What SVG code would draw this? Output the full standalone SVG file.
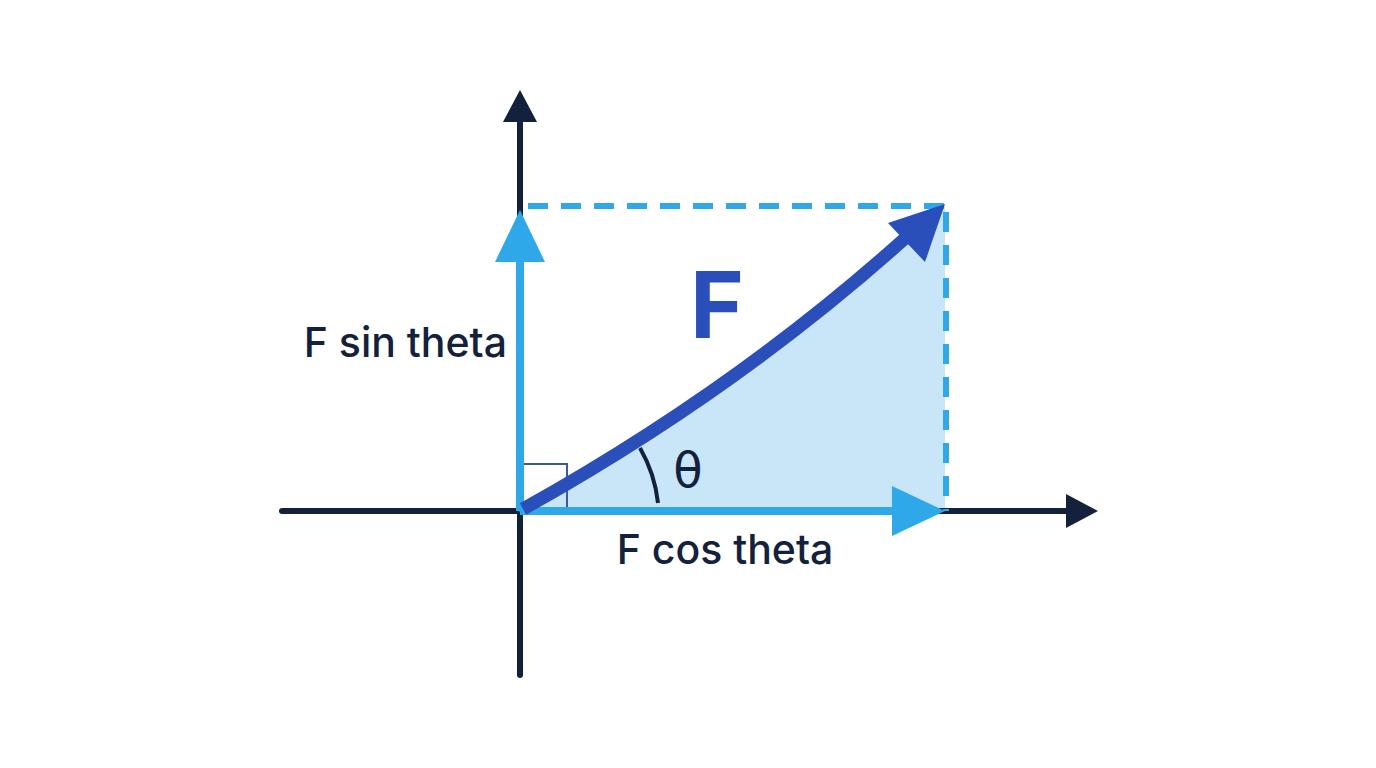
<svg xmlns="http://www.w3.org/2000/svg" width="1376" height="768" viewBox="0 0 1376 768">
<style>
.lbl{font-family:"Inter","Liberation Sans",sans-serif;font-weight:500;fill:#14213d;font-size:41px}
</style>
<rect width="1376" height="768" fill="#fff"/>
<g id="fill"><path d="M520,511 Q750,383 945,206 L945,511 Z" fill="#c9e6f8"/></g>
<g id="connectors">
<line x1="282" y1="511" x2="1070" y2="511" stroke="#14213d" stroke-width="6" stroke-linecap="round"/>
<polygon points="1098,511 1066,494 1066,528" fill="#14213d"/>
<line x1="520" y1="675" x2="520" y2="118" stroke="#14213d" stroke-width="6" stroke-linecap="round"/>
<polygon points="520,90 503,122 537,122" fill="#14213d"/>
<line x1="528" y1="206" x2="945" y2="206" stroke="#2ea8e8" stroke-width="6" stroke-dasharray="20,13"/>
<line x1="946" y1="212" x2="946" y2="511" stroke="#2ea8e8" stroke-width="6" stroke-dasharray="20,13"/>
<rect x="520" y="464" width="47" height="47" fill="none" stroke="#3a5a98" stroke-width="2"/>
<line x1="520" y1="511" x2="520" y2="250" stroke="#2ea8e8" stroke-width="8"/>
<polygon points="520,210 495,262 545,262" fill="#2ea8e8"/>
<line x1="520" y1="511" x2="900" y2="511" stroke="#2ea8e8" stroke-width="8"/>
<polygon points="945,511 892,486 892,536" fill="#2ea8e8"/>
<path d="M523,509 Q740,388 912,232" fill="none" stroke="#2a4fbb" stroke-width="13"/>
<polygon points="945,204 888,223 925,262" fill="#2a4fbb"/>
<path d="M658,503 A140,140 0 0 0 640,448" fill="none" stroke="#14213d" stroke-width="4"/>
</g>
<text x="717" y="338" font-family="Inter,'Liberation Sans',sans-serif" font-weight="700" font-size="92" fill="#2a4fbb" text-anchor="middle">F</text>
<text x="688" y="487" font-family="'DejaVu Sans',sans-serif" font-size="48" fill="#14213d" text-anchor="middle">θ</text>
<text class="lbl" x="507" y="357" text-anchor="end">F sin theta</text>
<text class="lbl" x="725" y="564" text-anchor="middle">F cos theta</text>
</svg>
